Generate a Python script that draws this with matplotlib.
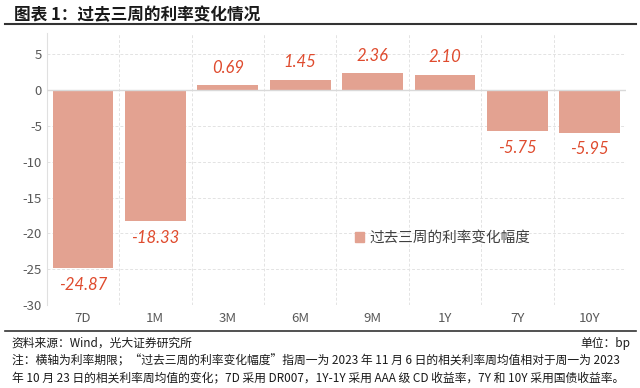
import matplotlib
matplotlib.use("Agg")
import matplotlib.pyplot as plt
from matplotlib.lines import Line2D
from matplotlib.patches import Patch

plt.rcParams['font.family'] = ['Noto Sans CJK SC', 'DejaVu Sans']

categories = ["7D", "1M", "3M", "6M", "9M", "1Y", "7Y", "10Y"]
values = [-24.87, -18.33, 0.69, 1.45, 2.36, 2.10, -5.75, -5.95]
yticks = [5, 0, -5, -10, -15, -20, -25, -30]
series_name = "过去三周的利率变化幅度"

bar_color = "#E3A291"
label_color = "#DF4B2E"

fig = plt.figure(figsize=(6.4, 3.88), dpi=100)
ax = fig.add_axes([0.073, 0.214, 0.905, 0.701])

x = list(range(len(categories)))
ax.bar(x, values, width=0.84, color=bar_color, zorder=3)
ax.set_xlim(-0.5, len(categories) - 0.5)
ax.set_ylim(-30, 8)
ax.set_yticks(yticks)
ax.set_yticklabels([str(v) for v in yticks])
ax.set_xticks(x)
ax.set_xticklabels(categories)

for xi, v in zip(x, values):
    if v >= 0:
        ax.annotate(f"{v:.2f}", (xi, v), xytext=(0, 7), textcoords="offset points",
                    ha="center", va="bottom", color=label_color, fontsize=12,
                    family=["Lato", "DejaVu Sans"], style="italic")
    else:
        ax.annotate(f"{v:.2f}", (xi, v), xytext=(0, -6), textcoords="offset points",
                    ha="center", va="top", color=label_color, fontsize=12,
                    family=["Lato", "DejaVu Sans"], style="italic")

# grid
for yv in yticks:
    if yv != 0:
        ax.axhline(yv, color="#E3E3E3", lw=0.7, ls=(0, (3, 2)), zorder=1)
for b in range(1, len(categories)):
    ax.axvline(b - 0.5, color="#E3E3E3", lw=0.7, ls=(0, (3, 2)), zorder=1)
ax.axhline(0, color="#D9D9D9", lw=1.0, zorder=4)

for s in ["top", "right", "bottom"]:
    ax.spines[s].set_visible(False)
ax.spines["left"].set_color("#E0E0E0")
ax.tick_params(axis="both", length=0, colors="#595959", labelsize=9.5)
ax.tick_params(axis="x", pad=5)

leg = ax.legend(handles=[Patch(color=bar_color, label=series_name)],
                loc="upper left", bbox_to_anchor=(0.51, 0.32), frameon=False,
                handlelength=0.6, handleheight=0.6, handletextpad=0.4, fontsize=10.5)
for t in leg.get_texts():
    t.set_color("#404040")

# title and rules
fig.text(0.022, 0.962, "图表 1：过去三周的利率变化情况", fontsize=12, fontweight="bold",
         color="#1a1a1a", va="center", ha="left")
fig.add_artist(Line2D([0.008, 0.994], [0.937, 0.937], color="#333333", lw=1.5))
fig.add_artist(Line2D([0.008, 0.994], [0.147, 0.147], color="#333333", lw=1.2))

fig.text(0.018, 0.115, "资料来源：Wind，光大证券研究所", fontsize=8.5, color="#1a1a1a", va="center")
fig.text(0.985, 0.115, "单位：bp", fontsize=8.5, color="#1a1a1a", va="center", ha="right")
fig.text(0.018, 0.071, "注：横轴为利率期限；“过去三周的利率变化幅度”指周一为 2023 年 11 月 6 日的相关利率周均值相对于周一为 2023",
         fontsize=8.5, color="#1a1a1a", va="center")
fig.text(0.018, 0.027, "年 10 月 23 日的相关利率周均值的变化；7D 采用 DR007，1Y-1Y 采用 AAA 级 CD 收益率，7Y 和 10Y 采用国债收益率。",
         fontsize=8.5, color="#1a1a1a", va="center")

fig.savefig("out.png", dpi=100)
